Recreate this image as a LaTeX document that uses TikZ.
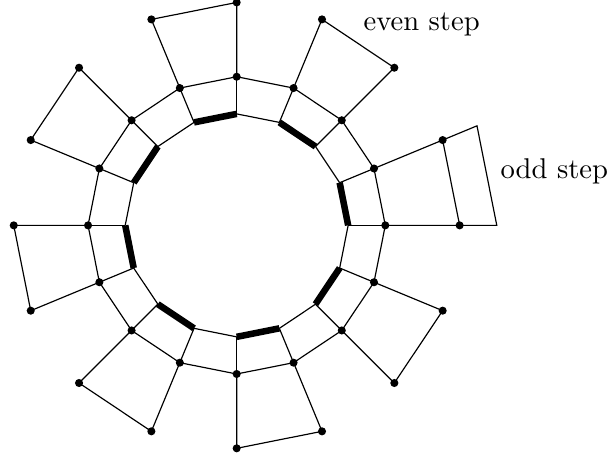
\documentclass[tikz,border=0pt]{standalone}
\begin{document}
\begin{tikzpicture}[x=0.5cm, y=0.5cm, line width=0.45pt,
  dot/.style={circle, fill, inner sep=0pt, minimum size=3.1pt},
  bold/.style={line width=2.5pt},
  steptext/.style={anchor=base west, inner sep=0pt,
    font=\fontsize{10.95}{13.6}\selectfont}]
  \useasboundingbox (-6.37,-6.21) rectangle (10.02,6.065);
  % three rings of vertices
  \foreach \k in {0,...,15} {
    \coordinate (i\k) at (22.5*\k:3);
    \coordinate (m\k) at (22.5*\k:4);
    \coordinate (o\k) at (22.5*\k:6);
  }
  \coordinate (x0) at (0:7);
  \coordinate (x1) at (22.5:7);
  % middle ring and spokes
  \draw (m0) \foreach \k in {1,...,15} {-- (m\k)} -- cycle;
  \foreach \k in {0,...,15}
    \draw (i\k) -- (m\k);
  % inner ring, thin part
  \foreach \j in {0,...,7} {
    \pgfmathtruncatemacro\b{2*\j+1}
    \pgfmathtruncatemacro\c{mod(2*\j+2,16)}
    \draw (i\b) -- (i\c);
  }
  % outer squares
  \foreach \j in {1,...,7} {
    \pgfmathtruncatemacro\a{2*\j}
    \pgfmathtruncatemacro\b{2*\j+1}
    \draw (m\a) -- (o\a) -- (o\b) -- (m\b);
  }
  \draw (m0) -- (x0) -- (x1) -- (m1);
  \draw (o0) -- (o1);
  % inner ring, bold part
  \foreach \j in {0,...,7} {
    \pgfmathtruncatemacro\a{2*\j}
    \pgfmathtruncatemacro\b{2*\j+1}
    \draw[bold] (i\a) -- (i\b);
  }
  % dots
  \foreach \k in {0,...,15}
    \node[dot] (dm\k) at (m\k) {};
  \foreach \k in {0,...,15}
    \node[dot] (do\k) at (o\k) {};
  \node[steptext] (even) at (3.40,5.257) {even step};
  \node[steptext] (odd)  at (7.087,1.273) {odd step};
\end{tikzpicture}
\end{document}
